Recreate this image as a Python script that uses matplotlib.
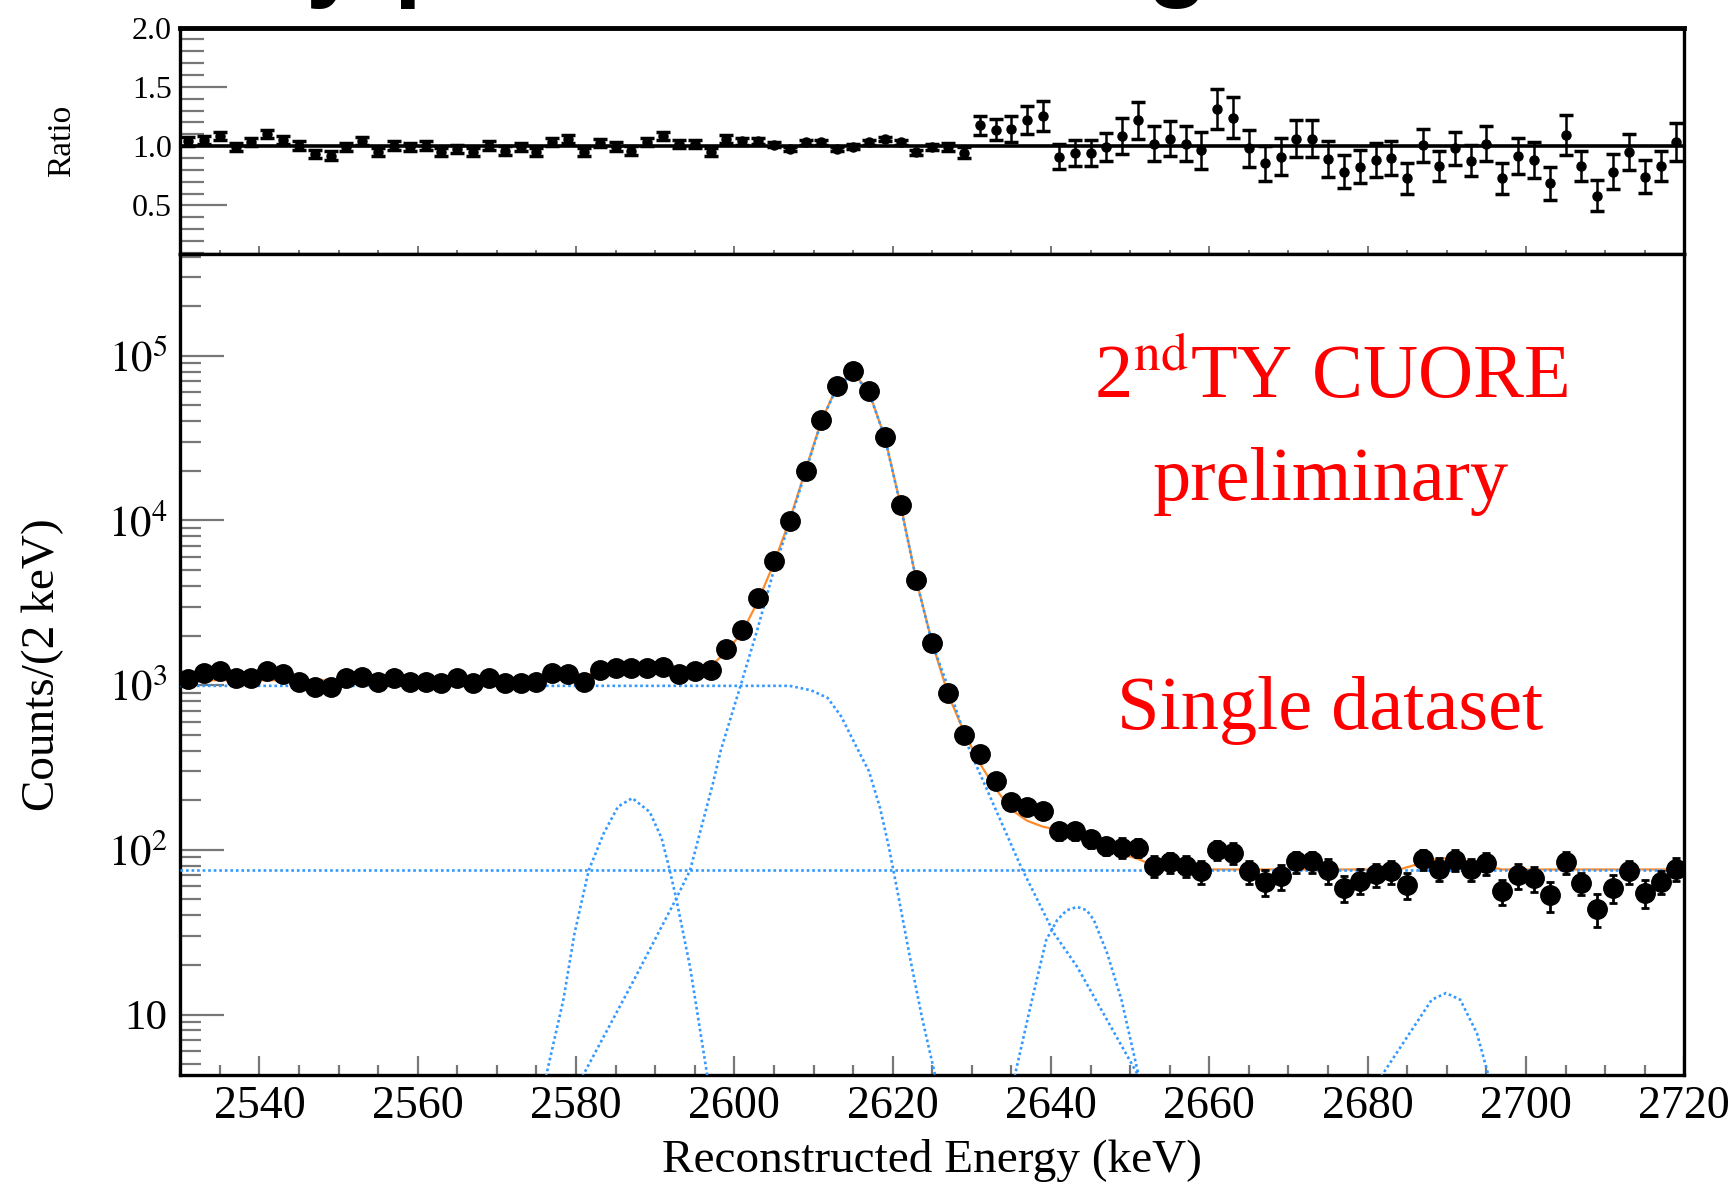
import numpy as np
import matplotlib
matplotlib.use('Agg')
import matplotlib.pyplot as plt
from matplotlib.ticker import FixedLocator, MultipleLocator, LogLocator, FuncFormatter, NullFormatter

plt.rcParams['font.family'] = ['Liberation Serif', 'DejaVu Serif']
plt.rcParams['mathtext.fontset'] = 'stix'

# bin centres of the 2 keV bins, 2531 ... 2719 keV
energy = np.arange(2531, 2721, 2)

# counts per bin
counts = np.array([
    1085, 1180, 1225, 1100, 1100, 1225, 1164, 1050, 980, 980,
    1100, 1116, 1050, 1100, 1050, 1050, 1026, 1100, 1026, 1100,
    1036, 1026, 1050, 1180, 1164, 1040, 1230, 1275, 1265, 1275,
    1290, 1165, 1225, 1230, 1665, 2165, 3380, 5650, 9900, 20000,
    40500, 65800, 81000, 61000, 32300, 12400, 4350, 1810, 890, 499,
    382, 262, 194, 181, 172, 130, 130, 116, 106, 103,
    103, 80, 84, 80, 74, 100, 96, 74, 64, 69,
    85, 85, 75, 59, 65, 71, 74, 61, 88, 77,
    87, 76, 83, 56, 70, 67, 53, 84, 63, 44,
    59, 74, 55, 64, 77])

# data / fit ratio and its error bars
ratio = np.array([
    1.04, 1.052, 1.088, 0.99, 1.032, 1.102, 1.052, 1.004, 0.934, 0.92,
    0.99, 1.046, 0.948, 1.004, 0.99, 1.004, 0.948, 0.976, 0.948, 1.004,
    0.962, 0.99, 0.948, 1.032, 1.06, 0.948, 1.024, 0.996, 0.962, 1.032,
    1.088, 1.018, 1.018, 0.948, 1.06, 1.04, 1.046, 1.013, 0.976, 1.032,
    1.032, 0.976, 0.996, 1.032, 1.06, 1.032, 0.948, 0.996, 0.99, 0.946,
    1.176, 1.14, 1.148, 1.218, 1.252, 0.91, 0.938, 0.938, 0.994, 1.084,
    1.218, 1.022, 1.064, 1.022, 0.966, 1.31, 1.24, 0.98, 0.854, 0.91,
    1.064, 1.064, 0.888, 0.784, 0.826, 0.882, 0.896, 0.728, 1.008, 0.832,
    0.98, 0.877, 1.022, 0.728, 0.916, 0.882, 0.686, 1.092, 0.832, 0.58,
    0.784, 0.952, 0.742, 0.832, 1.036])

ratio_err = np.array([
    0.035, 0.035, 0.035, 0.035, 0.035, 0.035, 0.035, 0.035, 0.035, 0.035,
    0.035, 0.035, 0.035, 0.035, 0.035, 0.035, 0.035, 0.035, 0.035, 0.035,
    0.035, 0.035, 0.035, 0.035, 0.035, 0.035, 0.035, 0.035, 0.035, 0.035,
    0.035, 0.035, 0.035, 0.035, 0.03, 0.03, 0.025, 0.02, 0.02, 0.02,
    0.02, 0.02, 0.02, 0.02, 0.02, 0.02, 0.02, 0.025, 0.035, 0.045,
    0.08, 0.09, 0.11, 0.12, 0.125, 0.105, 0.11, 0.11, 0.12, 0.15,
    0.155, 0.15, 0.15, 0.15, 0.155, 0.168, 0.174, 0.155, 0.15, 0.155,
    0.155, 0.155, 0.151, 0.14, 0.14, 0.143, 0.144, 0.13, 0.14, 0.13,
    0.143, 0.132, 0.151, 0.13, 0.154, 0.151, 0.14, 0.168, 0.126, 0.13,
    0.15, 0.154, 0.14, 0.13, 0.161])

# total fit (orange)
fit_e = [2530, 2576, 2579, 2581, 2583, 2585, 2587, 2589, 2591, 2593,
         2595, 2597, 2599, 2601, 2603, 2605, 2607, 2609, 2611, 2613,
         2615, 2617, 2619, 2621, 2623, 2625, 2627, 2629, 2631, 2633,
         2635, 2637, 2639, 2641, 2643, 2645, 2647, 2649, 2651, 2653,
         2655, 2658, 2684, 2686, 2688, 2690, 2692, 2694, 2697, 2720]
fit_y = [1070, 1070, 1090, 1140, 1200, 1250, 1270, 1245, 1180, 1140,
         1160, 1300, 1600, 2100, 3250, 5500, 10100, 20300, 40300, 65500,
         79000, 60500, 32000, 12400, 4300, 1800, 880, 520, 335, 235,
         175, 150, 138, 132, 128, 118, 104, 94, 88, 80,
         77, 76, 76, 81, 87, 89, 87, 81, 76, 76]

# fit components (blue dotted)
bkg_e = [2530, 2720]
bkg_y = [75.5, 75.5]

step_e = [2530, 2607, 2609.7, 2611.8, 2613.5, 2615.4, 2617, 2618.4, 2619.5,
          2620.8, 2622.2, 2623.7, 2625.4]
step_y = [990, 990, 930, 835, 645, 424, 300, 180, 105, 50, 22, 9.6, 4.2]

main_e = [2580.8, 2587.1, 2592.6, 2594.4, 2597.3, 2598.3, 2600.8, 2602.9, 2605,
          2607, 2609, 2611, 2613, 2615, 2617, 2619, 2621, 2623, 2625, 2627.6,
          2629.7, 2636.2, 2640.4, 2643.3, 2651.1]
main_y = [4.2, 15.5, 50, 75, 254, 404, 1000, 2170, 5020,
          9800, 19800, 40000, 65000, 78000, 60000, 32000, 12300, 4300, 1780, 813,
          404, 79, 31, 19.5, 4.2]

peak_a_e = [2576.2, 2578.4, 2579.8, 2581.6, 2583.5, 2585.3, 2587.1, 2589.3,
            2590.8, 2591.7, 2592.6, 2594.4, 2596.6]
peak_a_y = [4.2, 12.3, 31, 75, 126, 183, 206, 170, 118, 80, 52, 19.5, 4.2]

peak_b_e = [2635.4, 2637.6, 2639.4, 2640.8, 2642, 2643.3, 2644.5, 2645.4, 2647.1,
            2648.9, 2651.1]
peak_b_y = [4.2, 12.3, 28.4, 37.6, 43, 45, 43, 37.6, 23.5, 12.3, 4.2]

peak_c_e = [2681.7, 2685.3, 2688.1, 2689.9, 2691.7, 2693.8, 2695.3]
peak_c_y = [4.2, 7.7, 12.3, 13.5, 12.3, 7.7, 4.2]

tick_grey = '#777777'
blue = '#3399ff'

fig = plt.figure(figsize=(17.33, 11.85), dpi=100)
ax_r = fig.add_axes([0.104, 0.7857, 0.8679, 0.191])
ax = fig.add_axes([0.104, 0.0925, 0.8679, 0.6932])

# ---- lower panel: spectrum ----
ax.plot(fit_e, fit_y, color='#ff8c2a', lw=1.6, zorder=2)
for xs, ys in [(bkg_e, bkg_y), (step_e, step_y), (main_e, main_y),
               (peak_a_e, peak_a_y), (peak_b_e, peak_b_y), (peak_c_e, peak_c_y)]:
    ax.plot(xs, ys, color=blue, lw=1.9, ls=(0, (1, 1.1)), zorder=3)
cerr = counts * ratio_err / ratio
ax.errorbar(energy, counts, yerr=cerr, fmt='o', ms=14, color='black',
            ecolor='black', elinewidth=2, capsize=3, capthick=2, zorder=4)

ax.set_yscale('log')
ax.set_xlim(2530, 2720)
ax.set_ylim(4.27, 4.15e5)

ax.xaxis.set_major_locator(MultipleLocator(20))
ax.xaxis.set_minor_locator(MultipleLocator(5))
ax.yaxis.set_major_locator(FixedLocator([10, 1e2, 1e3, 1e4, 1e5]))
ax.yaxis.set_minor_locator(LogLocator(base=10, subs=np.arange(2, 10), numticks=20))
ax.yaxis.set_minor_formatter(NullFormatter())
ax.yaxis.set_major_formatter(FuncFormatter(
    lambda v, p: '10' if abs(v - 10) < 1e-6 else r'$10^{%d}$' % round(np.log10(v))))

ax.tick_params(axis='x', which='major', direction='in', length=14, width=1.6,
               color=tick_grey, labelsize=33, pad=7)
ax.tick_params(axis='x', which='minor', direction='in', length=7, width=1.6, color=tick_grey)
ax.tick_params(axis='y', which='major', direction='in', length=32, width=1.6,
               color=tick_grey, labelsize=31, pad=9)
ax.tick_params(axis='y', which='minor', direction='in', length=15, width=1.6, color=tick_grey)

ax.set_xlabel('Reconstructed Energy (keV)', fontsize=34)
ax.set_ylabel('Counts/(2 keV)', fontsize=34)
ax.xaxis.set_label_coords(0.5, -0.078)
ax.yaxis.set_label_coords(-0.077, 0.5)

for s in ax.spines.values():
    s.set_linewidth(2.4)

ax.text(2675.3, 0.8247, r'2$^{\mathrm{nd}}$TY CUORE', transform=ax.get_xaxis_transform(),
        ha='center', va='baseline', color='red', fontsize=55)
ax.text(2675.3, 0.7005, 'preliminary', transform=ax.get_xaxis_transform(),
        ha='center', va='baseline', color='red', fontsize=55)
ax.text(2675.3, 0.422, 'Single dataset', transform=ax.get_xaxis_transform(),
        ha='center', va='baseline', color='red', fontsize=55)

# ---- upper panel: ratio ----
ax_r.axhline(1.0, color='black', lw=2.6, zorder=2)
ax_r.errorbar(energy, ratio, yerr=ratio_err, fmt='o', ms=6.5, color='black',
              ecolor='black', elinewidth=1.8, capsize=5, capthick=2.5, zorder=3)
ax_r.set_xlim(2530, 2720)
ax_r.set_ylim(0.09, 2.0)
ax_r.xaxis.set_major_locator(MultipleLocator(20))
ax_r.xaxis.set_minor_locator(MultipleLocator(5))
ax_r.yaxis.set_major_locator(FixedLocator([0.5, 1.0, 1.5, 2.0]))
ax_r.yaxis.set_minor_locator(MultipleLocator(0.1))
ax_r.yaxis.set_major_formatter(FuncFormatter(lambda v, p: '%.1f' % v))
ax_r.tick_params(axis='x', which='major', direction='in', length=6, width=1.4,
                 color=tick_grey, labelbottom=False)
ax_r.tick_params(axis='x', which='minor', direction='in', length=3, width=1.4, color=tick_grey)
ax_r.tick_params(axis='y', which='major', direction='in', length=34, width=1.6,
                 color=tick_grey, labelsize=23, pad=6)
ax_r.tick_params(axis='y', which='minor', direction='in', length=17, width=1.6, color=tick_grey)
ax_r.set_ylabel('Ratio', fontsize=24)
ax_r.yaxis.set_label_coords(-0.0686, 0.5)
for s in ax_r.spines.values():
    s.set_linewidth(2.4)
ax_r.spines['top'].set_linewidth(3.5)

# cut-off slide title above the plot: only descenders show
for ch, px in [('y', 305), ('p', 393), ('g', 1147)]:
    fig.text(px / 1733, 1 + 12 / 1185, ch, fontsize=72, fontweight='bold',
             family='Liberation Sans', va='baseline', ha='left')

fig.savefig('out.png', dpi=100)
